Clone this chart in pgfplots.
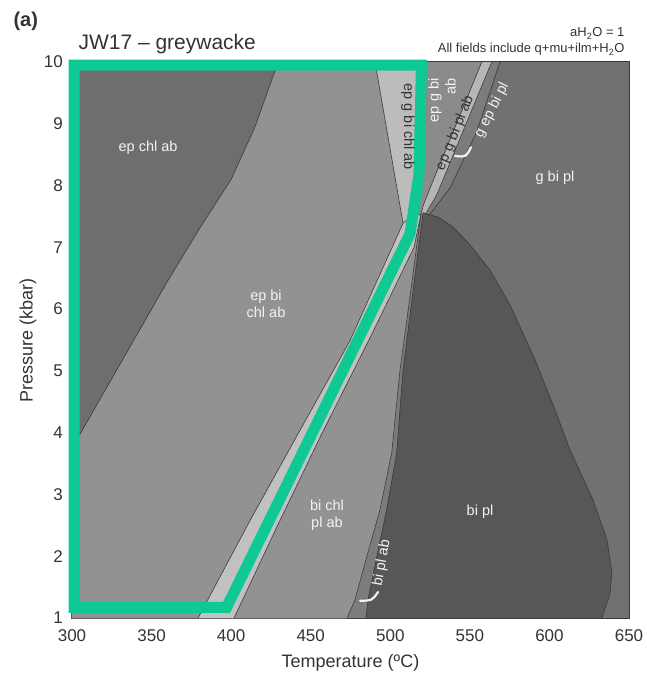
\documentclass[border=0pt]{standalone}
\usepackage{fontspec}
\setmainfont{Liberation Sans}
\usepackage{pgfplots}
\pgfplotsset{compat=1.18}

% field shades
\definecolor{gbipl}{HTML}{717171}
\definecolor{epchlab}{HTML}{6E6E6E}
\definecolor{midgrey}{HTML}{929292}
\definecolor{wedge}{HTML}{BCBCBC}
\definecolor{bandL}{HTML}{C1C1C1}
\definecolor{epgbiab}{HTML}{8B8B8B}
\definecolor{bandR}{HTML}{B6B6B6}
\definecolor{strip}{HTML}{7C7C7C}
\definecolor{bipl}{HTML}{575757}
\definecolor{edge}{HTML}{3A3A3A}
\definecolor{labc}{HTML}{333333}
\definecolor{pathgreen}{HTML}{0FC995}
\definecolor{fieldtxt}{HTML}{F2F2F2}

\tikzset{
  field/.style={font=\fontsize{14.5}{17}\selectfont, text=fieldtxt, align=center, inner sep=0pt},
  darkfield/.style={font=\fontsize{14.5}{17}\selectfont, text=labc, align=center, inner sep=0pt},
}

\begin{document}
\begin{tikzpicture}[x=1pt,y=1pt]
\useasboundingbox (-72,-58) rectangle (574,618);
\begin{axis}[
  at={(0,0)}, anchor=south west,
  scale only axis, width=557pt, height=556pt,
  xmin=300, xmax=650, ymin=1, ymax=10,
  clip=false,
  axis background/.style={fill=gbipl},
  axis line style={draw=edge, line width=1pt},
  xtick={300,350,...,650}, minor xtick={325,375,...,625},
  ytick={1,2,...,10},
  tick align=inside, tick pos=left,
  major tick length=4pt, minor tick length=4pt,
  tick style={draw=edge, line width=0.6pt},
  /pgf/number format/assume math mode=true,
  ticklabel style={font=\fontsize{17}{17}\selectfont, text=labc, inner sep=0pt},
  xticklabel style={anchor=center, yshift=-17.5pt},
  yticklabel style={anchor=east, xshift=-9pt},
  xlabel={Temperature (ºC)}, ylabel={Pressure (kbar)},
  label style={font=\fontsize{18}{18}\selectfont, text=labc},
  xlabel style={at={(axis description cs:0.5,-0.081)}, anchor=center},
  ylabel style={at={(axis description cs:-0.079,0.5)}, anchor=center},
]

% g ep bi pl and bi pl ab strips
\addplot[fill=strip, draw=none] coordinates {
  (300,10) (568.9,10) (554.3,8.87) (537.5,7.96) (525.0,7.54) (520.6,7.56)
  (513.6,6.15) (508.0,5.01) (504.0,3.67) (497.7,2.75) (491.5,1.99) (486.0,1.29) (484.7,1.0)
  (300,1)};
% ep g bi pl ab
\addplot[fill=bandR, draw=none] coordinates {
  (300,10) (563.7,10) (529.2,7.85) (522.9,7.57) (519.3,7.54)
  (512.1,6.15) (506.1,5.01) (500.9,3.67) (493.5,2.75) (485.2,1.99) (477.8,1.29) (472.8,1.0)
  (300,1)};
% ep g bi ab
\addplot[fill=epgbiab, draw=none] coordinates {
  (300,10) (557.5,10) (525.0,7.96) (520.6,7.67) (519.3,7.54)
  (512.1,6.15) (506.1,5.01) (500.9,3.67) (493.5,2.75) (485.2,1.99) (477.8,1.29) (472.8,1.0)
  (300,1)};
% ep bi chl ab and bi chl pl ab
\addplot[fill=midgrey, draw=none] coordinates {
  (300,10) (520.6,10) (518.5,8.2) (512.0,7.45) (519.3,7.54)
  (512.1,6.15) (506.1,5.01) (500.9,3.67) (493.5,2.75) (485.2,1.99) (477.8,1.29) (472.8,1.0)
  (300,1)};
% ep g bi chl ab
\addplot[fill=wedge, draw=none] coordinates {
  (490.4,10) (520.6,10) (518.5,8.2) (511.1,7.41) (508.0,7.39)};
% ep bi chl pl ab
\addplot[fill=bandL, draw=none] coordinates {
  (379.2,1.0) (411.9,2.58) (443.3,4.04) (474.7,5.49) (508.0,7.39) (512.0,7.47) (519.3,7.54)
  (514.9,7.0) (486.6,5.50) (457.1,3.99) (430.7,2.58) (401.8,1.0)};
% ep chl ab
\addplot[fill=epchlab, draw=none] coordinates {
  (300,10) (429.5,10) (415,8.95) (400,8.1) (380,7.3) (360,6.45) (340,5.55) (320,4.65) (300,3.75)};
% bi pl
\addplot[fill=bipl, draw=none] coordinates {
  (520.6,7.56) (530.0,7.49) (539.4,7.33) (550.1,7.04) (562.7,6.63) (575.2,6.07)
  (590.9,5.18) (603.5,4.37) (612.9,3.72) (627.4,2.91) (636.2,2.26) (639.3,1.73)
  (638.1,1.40) (633.0,1.0) (484.7,1.0) (486.0,1.29) (491.5,1.99) (497.7,2.75)
  (504.0,3.67) (508.0,5.01) (513.6,6.15)};

% field boundaries
\addplot[draw=edge, line width=0.6pt] coordinates {
  (429.5,10) (415,8.95) (400,8.1) (380,7.3) (360,6.45) (340,5.55) (320,4.65) (300,3.75)};
\addplot[draw=edge, line width=0.6pt] coordinates {
  (379.2,1.0) (411.9,2.58) (443.3,4.04) (474.7,5.49) (508.0,7.39) (512.0,7.47) (519.3,7.54)};
\addplot[draw=edge, line width=0.6pt] coordinates {
  (401.8,1.0) (430.7,2.58) (457.1,3.99) (486.6,5.50) (514.9,7.0) (519.3,7.54)};
\addplot[draw=edge, line width=0.6pt] coordinates {(490.4,10) (508.0,7.39)};
\addplot[draw=edge, line width=0.6pt] coordinates {(520.6,10) (518.5,8.2) (511.1,7.41)};
\addplot[draw=edge, line width=0.6pt] coordinates {(557.5,10) (525.0,7.96) (520.6,7.67) (519.3,7.54)};
\addplot[draw=edge, line width=0.6pt] coordinates {(563.7,10) (529.2,7.85) (522.9,7.57)};
\addplot[draw=edge, line width=0.6pt] coordinates {(568.9,10) (554.3,8.87) (537.5,7.96) (525.0,7.54)};
\addplot[draw=edge, line width=0.6pt] coordinates {
  (519.3,7.54) (512.1,6.15) (506.1,5.01) (500.9,3.67) (493.5,2.75) (485.2,1.99) (477.8,1.29) (472.8,1.0)};
\addplot[draw=edge, line width=0.6pt] coordinates {
  (520.6,7.56) (513.6,6.15) (508.0,5.01) (504.0,3.67) (497.7,2.75) (491.5,1.99) (486.0,1.29) (484.7,1.0)};
\addplot[draw=edge, line width=0.6pt] coordinates {
  (520.6,7.56) (530.0,7.49) (539.4,7.33) (550.1,7.04) (562.7,6.63) (575.2,6.07)
  (590.9,5.18) (603.5,4.37) (612.9,3.72) (627.4,2.91) (636.2,2.26) (639.3,1.73)
  (638.1,1.40) (633.0,1.0)};
% frame on top and right
\draw[edge, line width=1pt] (axis cs:300,10) -- (axis cs:650,10) -- (axis cs:650,1);

% highlighted P-T window
\addplot[draw=pathgreen, line width=11pt, line join=miter] coordinates {
  (301.3,9.95) (519.6,9.95) (518.0,8.17) (512.4,7.22) (397.1,1.17) (301.3,1.17)} -- cycle;

% field names
\node[field] at (axis cs:347.8,8.62) {ep chl ab};
\node[field] at (axis cs:421.9,6.08) {ep bi\\chl ab};
\node[field] at (axis cs:460.2,2.67) {bi chl\\pl ab};
\node[field] at (axis cs:556.4,2.72) {bi pl};
\node[field] at (axis cs:603.5,8.12) {g bi pl};
\node[darkfield, rotate=-90] at (axis cs:511.1,8.95) {ep g bi chl ab};
\node[field, rotate=90, align=right] at (axis cs:532.5,9.38) {ep g bi\\ab};
\node[darkfield, rotate=68] at (axis cs:540.7,8.85) {ep g bi pl ab};
\node[field, rotate=63] at (axis cs:563.9,9.22) {g ep bi pl};
\node[field, rotate=80] at (axis cs:494.8,1.89) {bi pl ab};
% callouts
\draw[fieldtxt, line width=2.2pt, line cap=round] (axis cs:540.7,8.48) .. controls (axis cs:547.6,8.46) .. (axis cs:550.7,8.62);
\draw[fieldtxt, line width=2.2pt, line cap=round] (axis cs:481.0,1.28) .. controls (axis cs:488.5,1.28) .. (axis cs:492.3,1.42);
\end{axis}

\node[anchor=base west, font=\bfseries\fontsize{20}{20}\selectfont, text=labc] at (-62,591) {(a)};
\node[anchor=base west, font=\fontsize{21}{21}\selectfont, text=labc] at (3,568.5) {JW17 – greywacke};
\node[anchor=base east, font=\fontsize{13}{13}\selectfont, text=labc] at (556,581) {aH\textsubscript{2}O = 1};
\node[anchor=base east, font=\fontsize{13}{13}\selectfont, text=labc] at (556,565) {All fields include q+mu+ilm+H\textsubscript{2}O};
\end{tikzpicture}
\end{document}
